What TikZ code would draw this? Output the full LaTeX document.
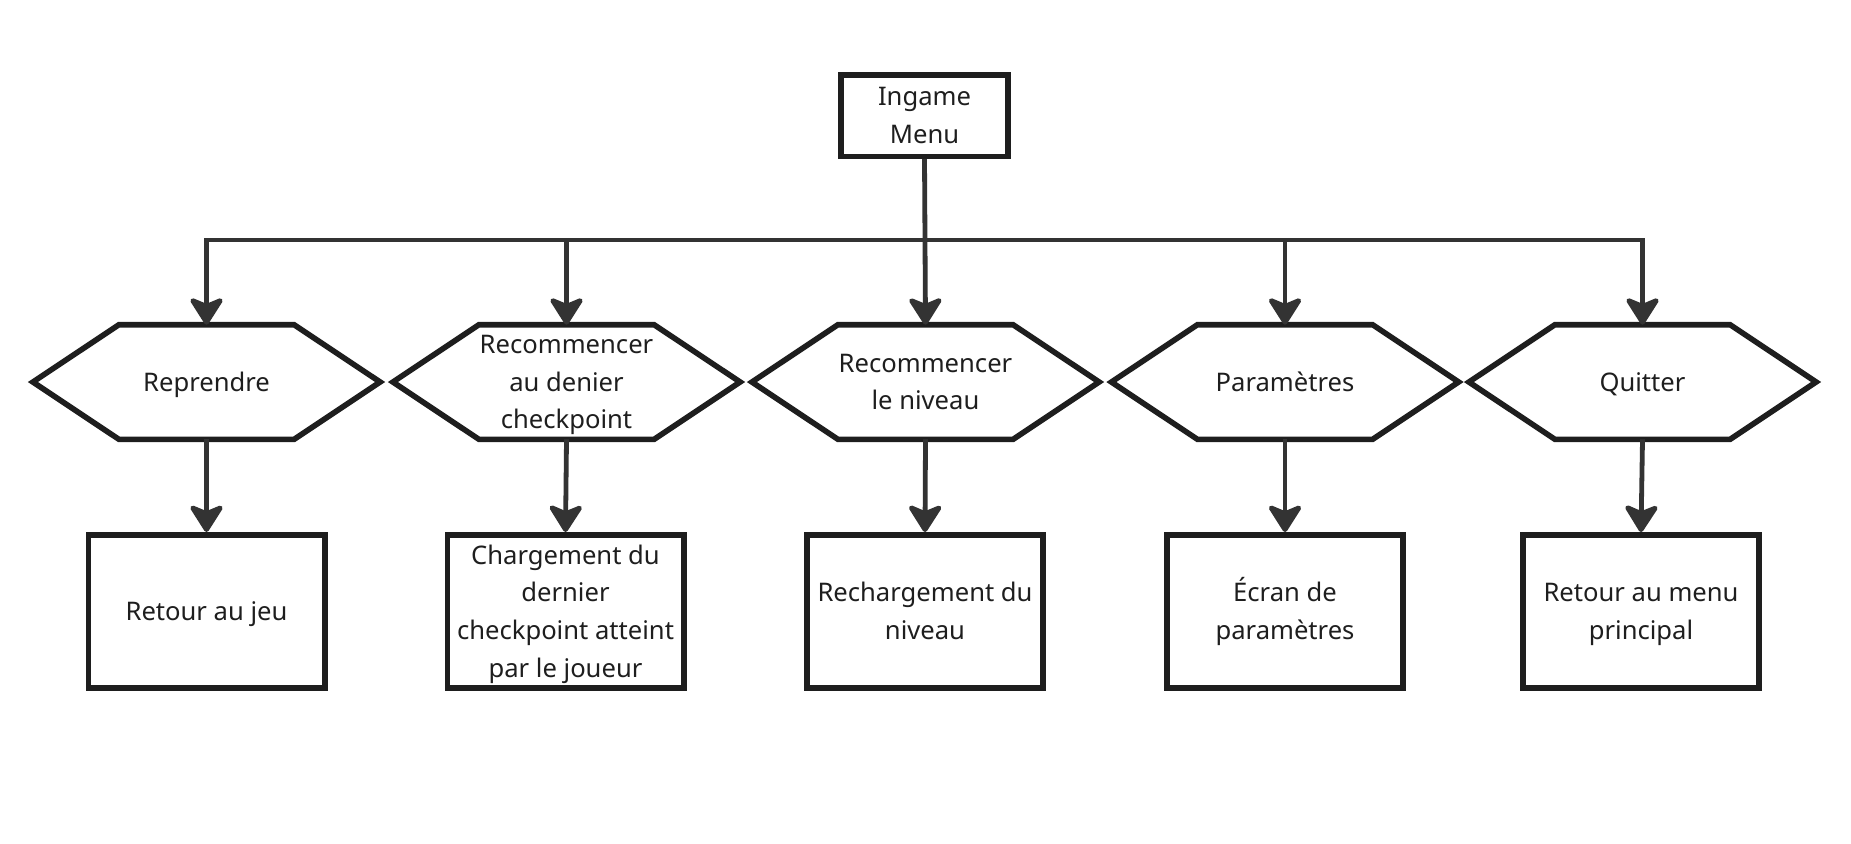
\documentclass[tikz,border=0pt]{standalone}
\usepackage{fontspec}
\setmainfont{Noto Sans}
\usetikzlibrary{arrows.meta}
\definecolor{ink}{HTML}{1E1E1E}
\definecolor{wire}{HTML}{333333}
\newcommand\mystrut{\rule[-0.29em]{0pt}{1.29em}}
\begin{document}
\begin{tikzpicture}[x=0.5pt,y=-0.5pt,
  lbl/.style={align=center, font=\fontsize{12.8}{18.8}\selectfont, text=ink, inner sep=0pt},
  menubox/.style={lbl, draw=ink, line width=2.8pt, minimum width=83.7pt, minimum height=40.8pt},
  resbox/.style={lbl, draw=ink, line width=2.8pt, minimum width=118.2pt, minimum height=76.7pt},
  hexnode/.style={lbl, minimum width=173.6pt, minimum height=57.3pt, outer sep=0pt},
  hexline/.style={draw=ink, line width=2.8pt, line join=miter},
  conn/.style={draw=wire, line width=2.4pt, -{Stealth[length=15.5pt,width=19.5pt,inset=4pt,round]}}
]
\useasboundingbox (0,0) rectangle (1851,843);
\node[menubox] (menu) at (924.5,115.5) {\mystrut Ingame\\Menu\mystrut};
\node[hexnode] (h1) at (206.5,382) {\mystrut Reprendre\mystrut};
\node[hexnode] (h2) at (566.5,382) {\mystrut Recommencer\\au denier\\checkpoint\mystrut};
\node[hexnode] (h3) at (925.5,382) {\mystrut Recommencer\\le niveau\mystrut};
\node[hexnode] (h4) at (1285,382) {\mystrut Paramètres\mystrut};
\node[hexnode] (h5) at (1642.5,382) {\mystrut Quitter\mystrut};
\foreach \n in {h1,h2,h3,h4,h5}{
  \draw[hexline] (\n.west) -- ([xshift=43pt]\n.north west) -- ([xshift=-43pt]\n.north east) -- (\n.east) -- ([xshift=-43pt]\n.south east) -- ([xshift=43pt]\n.south west) -- cycle;
}
\node[resbox] (b1) at (206.5,611.5) {\mystrut Retour au jeu\mystrut};
\node[resbox] (b2) at (565.5,611.5) {\mystrut Chargement du\\dernier\\checkpoint atteint\\par le joueur\mystrut};
\node[resbox] (b3) at (925,611.5) {\mystrut Rechargement du\\niveau\mystrut};
\node[resbox] (b4) at (1285,611.5) {\mystrut Écran de\\paramètres\mystrut};
\node[resbox] (b5) at (1641,611.5) {\mystrut Retour au menu\\principal\mystrut};
\coordinate (bus) at (924.5,240);
\draw[conn] (menu.south) -- (h3.north);
\foreach \n in {h1,h2,h4,h5}{
  \draw[conn] (bus) -| (\n.north);
}
\foreach \i in {1,...,5}{
  \draw[conn] (h\i.south) -- (b\i.north);
}
\end{tikzpicture}
\end{document}
